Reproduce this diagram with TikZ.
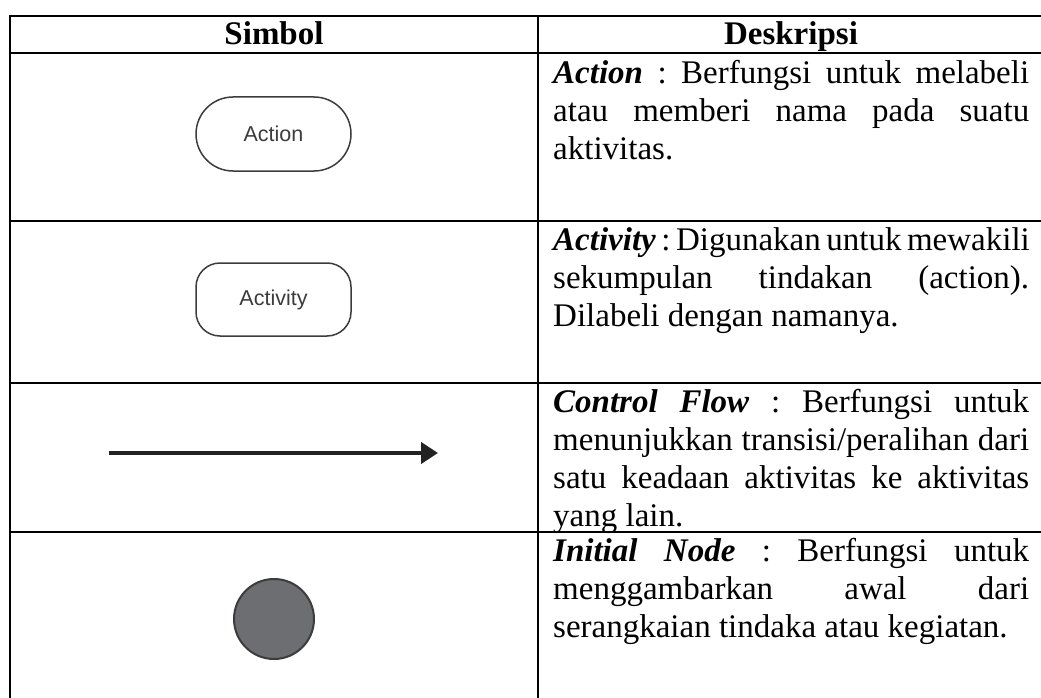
\documentclass[tikz,border=0pt]{standalone}
\usepackage{fontspec}
\setmainfont{Liberation Serif}
\newfontfamily\symfont{Liberation Sans}
\usetikzlibrary{arrows.meta}
\definecolor{symgray}{HTML}{3C3C3C}
\definecolor{initgray}{HTML}{6D6E71}
\definecolor{arrowdark}{HTML}{222222}
\newlength\descw \setlength\descw{476pt}
\newcommand\jline[1]{\makebox[\descw][s]{#1}}
\newcommand\topstrut{\rule{0pt}{29.4pt}}
\newcommand\term[1]{\textbf{\textit{#1}}}
\frenchspacing
\begin{document}
\begin{tikzpicture}[x=1pt,y=-1pt,
  rule/.style={line width=2pt,black},
  desc/.style={anchor=north west,inner sep=0pt,align=left,font=\fontsize{33}{38}\selectfont},
  head/.style={anchor=base,inner sep=0pt,font=\fontsize{33}{38}\selectfont\bfseries},
  umlshape/.style={draw=symgray,line width=1.5pt,fill=white,text=symgray,
    font=\symfont\fontsize{21.5}{26}\selectfont}]
\useasboundingbox (0,0) rectangle (1041,698);

% table rules
\draw[rule] (1045,15.7) -- (10,15.7) -- (10,702);
\draw[rule] (538,15.7) -- (538,702);
\foreach \yy in {53.5,221,383,532} \draw[rule] (10,\yy) -- (1045,\yy);

% header
\node[head] (hs) at (274,45) {Simbol};
\node[head] (hd) at (791,45) {Deskripsi};

% symbols
\node[umlshape,rounded corners=37pt,minimum width=155pt,minimum height=74pt] (action) at (273.5,134) {Action};
\node[umlshape,rounded corners=24pt,minimum width=155pt,minimum height=73pt] (activity) at (273.5,299.5) {Activity};
\coordinate (cfa) at (109,453);
\coordinate (cfb) at (438,453);
\draw[line width=4.5pt,arrowdark,-{Triangle[length=17pt,width=21pt]}] (cfa) -- (cfb);
\node[circle,draw=symgray,line width=2pt,fill=initgray,minimum size=80pt,inner sep=0pt] (init) at (274,619) {};

% descriptions
\node[desc] (d1) at (553,53.5) {\topstrut\jline{\term{Action} : Berfungsi untuk melabeli}\\
  \jline{atau memberi nama pada suatu}\\
  aktivitas.};
\node[desc] (d2) at (553,221) {\topstrut\jline{\term{Activity} : Digunakan untuk mewakili}\\
  \jline{sekumpulan tindakan (action).}\\
  Dilabeli dengan namanya.};
\node[desc] (d3) at (553,383) {\topstrut\jline{\term{Control Flow} : Berfungsi untuk}\\
  \jline{menunjukkan transisi/peralihan dari}\\
  \jline{satu keadaan aktivitas ke aktivitas}\\
  yang lain.};
\node[desc] (d4) at (553,532) {\topstrut\jline{\term{Initial Node} : Berfungsi untuk}\\
  \jline{menggambarkan awal dari}\\
  serangkaian tindaka atau kegiatan.};
\end{tikzpicture}
\end{document}
